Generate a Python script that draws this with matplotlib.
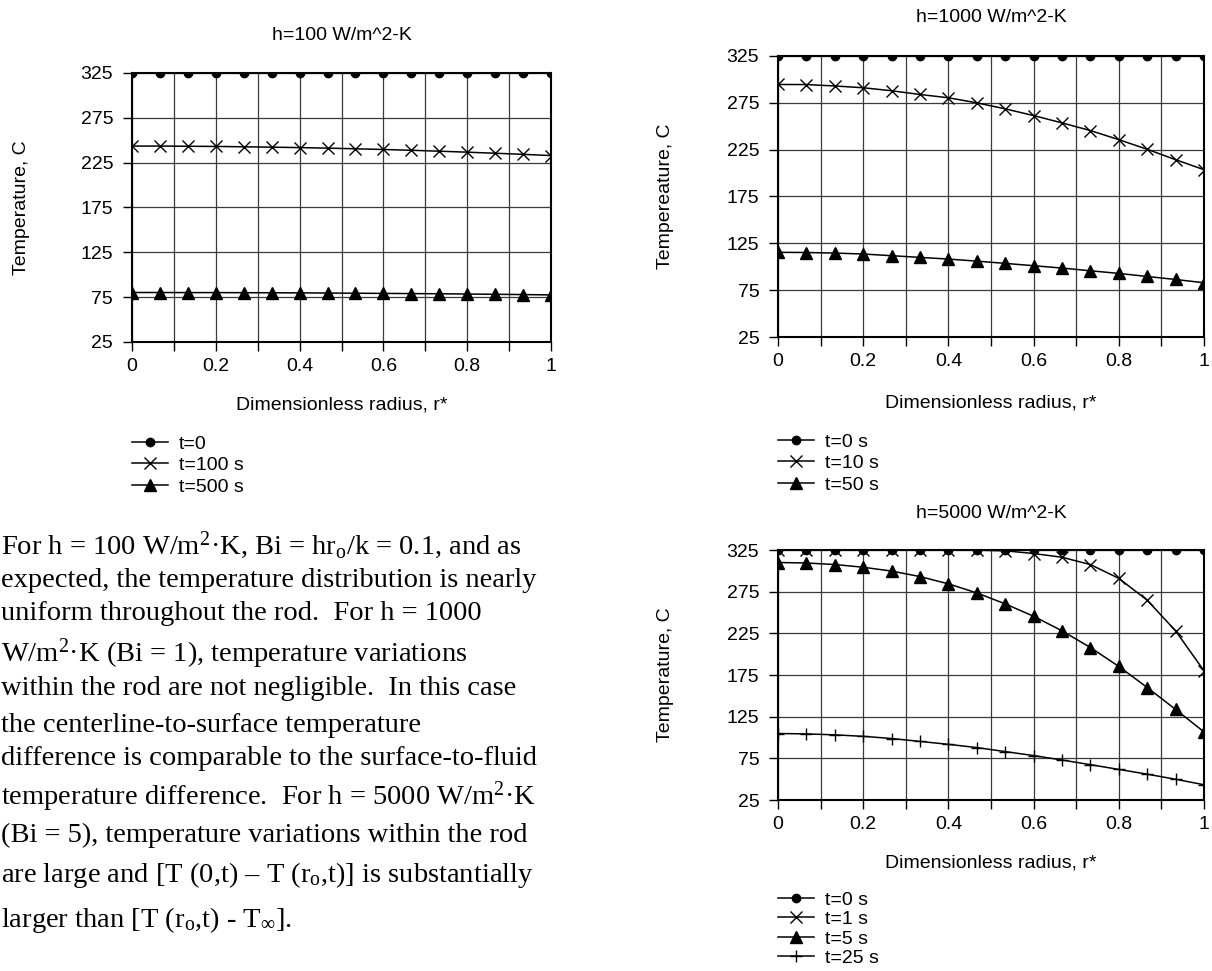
import matplotlib.pyplot as plt
from matplotlib.lines import Line2D

W, H = 1212, 971

# dimensionless radius r* (16 nodes)
r_star = [0.0, 0.0667, 0.1333, 0.2, 0.2667, 0.3333, 0.4, 0.4667,
          0.5333, 0.6, 0.6667, 0.7333, 0.8, 0.8667, 0.9333, 1.0]
x_ticks = [0, 0.2, 0.4, 0.6, 0.8, 1]
x_tick_labels = ['0', '0.2', '0.4', '0.6', '0.8', '1']
x_minor = [0.1, 0.3, 0.5, 0.7, 0.9]
y_ticks = [25, 75, 125, 175, 225, 275, 325]

# h = 100 W/m^2-K
h100_labels = ['t=0', 't=100 s', 't=500 s']
h100_t0 = [325, 325, 325, 325, 325, 325, 325, 325, 325, 325, 325, 325, 325, 325, 325, 325]
h100_t100 = [243.5, 243.5, 243.3, 243.1, 242.7, 242.3, 241.8, 241.2,
             240.5, 239.7, 238.8, 237.8, 236.7, 235.5, 234.3, 232.9]
h100_t500 = [80.2, 80.2, 80.1, 80.1, 80.0, 79.9, 79.8, 79.6,
             79.4, 79.2, 79.0, 78.8, 78.5, 78.2, 77.9, 77.5]

# h = 1000 W/m^2-K
h1000_labels = ['t=0 s', 't=10 s', 't=50 s']
h1000_t0 = [325, 325, 325, 325, 325, 325, 325, 325, 325, 325, 325, 325, 325, 325, 325, 325]
h1000_t10 = [294.6, 294.5, 293.0, 291.1, 287.9, 283.9, 280.4, 275.0,
             268.6, 261.4, 253.6, 245.4, 235.7, 225.4, 214.3, 203.6]
h1000_t50 = [115.4, 115.2, 114.6, 113.6, 111.8, 110.0, 108.2, 106.0,
             103.6, 101.1, 98.6, 95.7, 92.9, 89.6, 86.4, 82.9]

# h = 5000 W/m^2-K
h5000_labels = ['t=0 s', 't=1 s', 't=5 s', 't=25 s']
h5000_t0 = [325, 325, 325, 325, 325, 325, 325, 325, 325, 325, 325, 325, 325, 325, 325, 325]
h5000_t1 = [325.0, 325.0, 325.0, 325.0, 325.0, 325.0, 325.0, 324.8,
            324.0, 320.8, 316.3, 307.5, 291.0, 264.7, 228.0, 180.0]
h5000_t5 = [310.0, 309.4, 307.6, 304.3, 299.7, 293.1, 284.4, 273.5,
            260.4, 245.5, 228.0, 208.0, 185.3, 160.0, 133.7, 106.7]
h5000_t25 = [104.8, 104.3, 103.2, 101.4, 98.8, 95.3, 91.8, 87.9,
             83.1, 78.3, 73.0, 67.4, 61.7, 56.0, 49.9, 43.3]

plt.rcParams['font.family'] = ['Liberation Sans', 'DejaVu Sans']
plt.rcParams['mathtext.fontset'] = 'custom'
plt.rcParams['mathtext.rm'] = 'Liberation Serif'
plt.rcParams['mathtext.it'] = 'Liberation Serif:italic'
plt.rcParams['mathtext.bf'] = 'Liberation Serif:bold'
plt.rcParams['mathtext.fallback'] = 'stix'

fig = plt.figure(figsize=(W / 100, H / 100), dpi=100)


def fx(x):
    return x / W


def fy(y):
    return 1 - y / H


styles = {
    'o': dict(marker='o', ms=6),
    'x': dict(marker='x', ms=8, mew=1.0),
    '^': dict(marker='^', ms=9),
    '+': dict(marker='+', ms=9, mew=1.0),
}


def draw_chart(box, title, title_y, ylabel, ylabel_x, xlabel_y,
               series, labels, markers, legend_top, legend_x, legend_gap=0.2):
    l, t, r, b = box
    ax = fig.add_axes([fx(l), fy(b), (r - l) / W, (b - t) / H])
    for y, m in zip(series, markers):
        ax.plot(r_star, y, color='black', lw=1.1,
                mfc='black', mec='black', **styles[m])
    ax.set_xlim(0, 1)
    ax.set_ylim(25, 325)
    ax.set_xticks(x_ticks)
    ax.set_xticklabels(x_tick_labels)
    ax.set_xticks(x_minor, minor=True)
    ax.set_yticks(y_ticks)
    ax.grid(True, which='major', color='#3a3a3a', lw=0.9)
    ax.grid(True, which='minor', axis='x', color='#3a3a3a', lw=0.9)
    ax.set_axisbelow(True)
    for s in ax.spines.values():
        s.set_linewidth(1.5)
        s.set_color('black')
    ax.tick_params(axis='both', which='both', direction='out', length=6.5,
                   width=1, color='black', labelsize=14)
    ax.tick_params(axis='x', pad=5)
    ax.tick_params(axis='y', pad=7)
    cx = (l + r) / 2
    fig.text(fx(cx), fy(title_y), title, ha='center', va='center', fontsize=14)
    fig.text(fx(cx), fy(xlabel_y), 'Dimensionless radius, r*',
             ha='center', va='center', fontsize=14)
    fig.text(fx(ylabel_x), fy((t + b) / 2), ylabel, rotation=90,
             ha='center', va='center', fontsize=14)
    leg_handles = [Line2D([], [], color='black', lw=1.1, mfc='black',
                          mec='black', **styles[m]) for m in markers]
    fig.legend(leg_handles, labels, loc='upper left',
               bbox_to_anchor=(fx(legend_x), fy(legend_top)),
               frameon=False, fontsize=14, handlelength=1.85,
               handletextpad=0.55, labelspacing=legend_gap, borderpad=0,
               borderaxespad=0, numpoints=1)
    return ax


draw_chart((132, 73, 551, 342), 'h=100 W/m^2-K', 35, 'Temperature, C', 21, 405,
           [h100_t0, h100_t100, h100_t500], h100_labels, ['o', 'x', '^'],
           435, 132)
draw_chart((778, 56, 1204, 337), 'h=1000 W/m^2-K', 17, 'Tempereature, C', 665, 403,
           [h1000_t0, h1000_t10, h1000_t50], h1000_labels, ['o', 'x', '^'],
           433, 778)
draw_chart((778, 550, 1204, 800), 'h=5000 W/m^2-K', 513, 'Temperature, C', 665, 863,
           [h5000_t0, h5000_t1, h5000_t5, h5000_t25], h5000_labels,
           ['o', 'x', '^', '+'], 891, 778, legend_gap=0.1)

note_lines = [
    r'For h = 100 W/m$^{2}$·K, Bi = hr$_{\mathrm{o}}$/k = 0.1, and as',
    'expected, the temperature distribution is nearly',
    'uniform throughout the rod.  For h = 1000',
    r'W/m$^{2}$·K (Bi = 1), temperature variations',
    'within the rod are not negligible.  In this case',
    'the centerline-to-surface temperature',
    'difference is comparable to the surface-to-fluid',
    r'temperature difference.  For h = 5000 W/m$^{2}$·K',
    '(Bi = 5), temperature variations within the rod',
    r'are large and [T (0,t) – T (r$_{\mathrm{o}}$,t)] is substantially',
    r'larger than [T (r$_{\mathrm{o}}$,t) - T$_{\infty}$].',
]
note_baselines = [554, 587, 620, 662, 695, 732, 765, 805, 842, 882, 927]

for line, yb in zip(note_lines, note_baselines):
    fig.text(fx(1), fy(yb), line, ha='left', va='baseline',
             fontsize=20.5, family='Liberation Serif')

fig.savefig('out.png', dpi=100)
